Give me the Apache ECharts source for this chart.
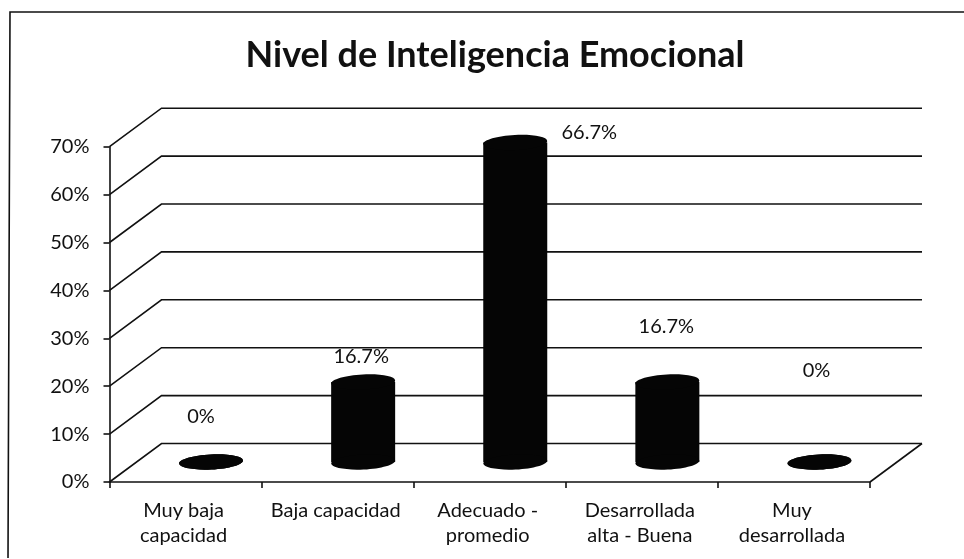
<!DOCTYPE html>
<html>
<head>
<meta charset="utf-8">
<style>
  html, body { margin: 0; padding: 0; background: #fff; }
  #chart { width: 964px; height: 559px; }
</style>
<script src="https://cdn.jsdelivr.net/npm/echarts@6/dist/echarts.min.js"></script>
</head>
<body>
<div id="chart"></div>
<script>
const categories = ['Muy baja\ncapacidad', 'Baja capacidad', 'Adecuado -\npromedio', 'Desarrollada\nalta - Buena', 'Muy\ndesarrollada']
const values = [0, 16.7, 66.7, 16.7, 0]
const gridTicks = [0, 10, 20, 30, 40, 50, 60, 70]
// where each value label sits, relative to the top of its cylinder
const labelShiftX = [-10, -2, 74, -1, -3]
const labelShiftY = [-45, -25, -10, -55, -91]

// fake 3D depth of the chart floor, in pixels
const depthX = 52
const depthY = 40
const INK = '#111111'
const FONT = 'Lato'

const chartInstance = echarts.init(document.getElementById('chart'))

// walls and floor of the 3D box
function renderWall(params, api) {
  const rect = params.coordSys
  const tick = api.value(0)
  const y = api.coord([0, tick])[1]
  const left = rect.x
  const right = rect.x + rect.width
  const backY = y - 38.5
  const children = [{
    type: 'polyline',
    shape: { points: [[left, y], [left + depthX, backY], [right + depthX, backY]] },
    style: { stroke: INK, lineWidth: 1.6, fill: null },
  }]
  // right edge of the floor
  if (tick === 0) {
    children.push({
      type: 'line',
      shape: { x1: right, y1: y, x2: right + depthX, y2: backY },
      style: { stroke: INK, lineWidth: 1.6 },
    })
  }
  return { type: 'group', children }
}

// one cylinder: body + top and bottom ellipses, slightly tilted like the scan
function renderCylinder(params, api) {
  const base = api.coord([api.value(0), 0])
  const top = api.coord([api.value(0), api.value(1)])
  const cx = base[0] + depthX / 2 - 0.5
  const yBase = base[1] - depthY / 2
  const yTop = top[1] - depthY / 2
  const rx = 32
  const ry = 7.5
  const tilt = 0.05
  return {
    type: 'group',
    children: [
      { type: 'rect', shape: { x: cx - rx, y: yTop, width: rx * 2, height: yBase - yTop }, style: { fill: '#050505' } },
      { type: 'ellipse', x: cx, y: yBase, rotation: tilt, shape: { cx: 0, cy: 0, rx, ry }, style: { fill: '#050505' } },
      { type: 'ellipse', x: cx, y: yTop, rotation: tilt, shape: { cx: 0, cy: 0, rx, ry }, style: { fill: '#050505' } },
      {
        type: 'text',
        style: {
          x: cx + labelShiftX[params.dataIndex],
          y: yTop + labelShiftY[params.dataIndex],
          text: api.value(1) + '%',
          font: '20px ' + FONT,
          fill: INK,
          align: 'center',
          verticalAlign: 'middle',
        },
      },
    ],
  }
}

const option = {
  animation: false,
  backgroundColor: '#ffffff',
  title: {
    text: 'Nivel de Inteligencia Emocional',
    left: 490,
    top: 32,
    textAlign: 'center',
    textStyle: { fontFamily: FONT, fontSize: 36, fontWeight: 'bold', color: INK },
  },
  graphic: [{
    type: 'polyline',
    shape: { points: [[8, 558], [10, 12], [964, 12]] },
    style: { stroke: INK, lineWidth: 1.6, fill: null },
  }],
  grid: { left: 109.5, right: 94, top: 146.7, bottom: 77, containLabel: false },
  xAxis: {
    type: 'category',
    data: categories,
    axisLine: { show: true, lineStyle: { color: INK, width: 1.6 } },
    axisTick: { show: true, alignWithLabel: false, length: 6, lineStyle: { color: INK, width: 1.6 } },
    axisLabel: { color: INK, fontFamily: FONT, fontSize: 20, lineHeight: 25, margin: 16, interval: 0, padding: [0, 4, 0, 0] },
  },
  yAxis: {
    type: 'value',
    min: 0,
    max: 70,
    interval: 10,
    axisLine: { show: true, lineStyle: { color: INK, width: 1.6 } },
    axisTick: { show: true, length: 6, lineStyle: { color: INK, width: 1.6 } },
    axisLabel: { color: INK, fontFamily: FONT, fontSize: 20, margin: 20, padding: [3, 0, 0, 0], formatter: '{value}%' },
    splitLine: { show: false },
  },
  series: [
    { type: 'custom', renderItem: renderWall, data: gridTicks.map((t) => [t]), encode: { y: 0 }, z: 1, silent: true },
    { type: 'custom', renderItem: renderCylinder, data: values.map((v, i) => [i, v]), encode: { x: 0, y: 1 }, z: 2, silent: true },
  ],
}
chartInstance.setOption(option)
</script>
</body>
</html>
